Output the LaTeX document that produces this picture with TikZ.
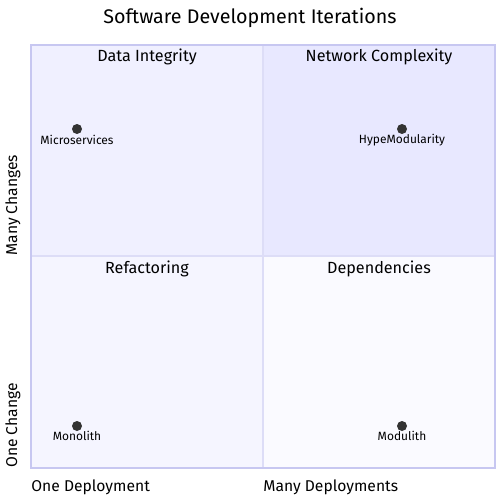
\documentclass[tikz,border=0pt]{standalone}
\usepackage{fontspec}
\setmainfont{Fira Sans}
\usepackage{xcolor}
\definecolor{qone}{HTML}{E8E8FF}
\definecolor{qtwo}{HTML}{F0F0FF}
\definecolor{qthree}{HTML}{F5F5FF}
\definecolor{qfour}{HTML}{FAFAFF}
\definecolor{qborder}{HTML}{C7C7F1}
\definecolor{qinner}{HTML}{DDDDF7}
\definecolor{pointgray}{HTML}{333333}
\tikzset{
  quadlabel/.style = {font=\fontsize{9.2}{11}\selectfont, anchor=center},
  axislabel/.style = {font=\fontsize{8.9}{10}\selectfont, inner sep=0pt},
  pointlabel/.style = {font=\fontsize{6.8}{8}\selectfont, inner sep=0pt},
  pointdot/.style = {circle, fill=pointgray, minimum size=0.2cm, inner sep=0pt}
}
\begin{document}
\begin{tikzpicture}[x=0.02cm, y=-0.02cm]
\useasboundingbox (0,0) rectangle (500,500);

% Title
\node (title) at (250,18) {\fontsize{11.2}{13}\selectfont Software Development Iterations};

% Quadrants
\fill[qtwo] (31,45) rectangle (263,256);
\fill[qone] (263,45) rectangle (495,256);
\fill[qthree] (31,256) rectangle (263,468);
\fill[qfour] (263,256) rectangle (495,468);
\draw[qinner, line width=0.8pt] (263,45) -- (263,468);
\draw[qinner, line width=0.8pt] (31,256) -- (495,256);
\draw[qborder, line width=1.2pt] (31,45) rectangle (495,468);

% Quadrant labels
\node[quadlabel] (dataint) at (147,57) {Data Integrity};
\node[quadlabel] (netcomp) at (379,57) {Network Complexity};
\node[quadlabel] (refact) at (147,269) {Refactoring};
\node[quadlabel] (depend) at (379,269) {Dependencies};

% Axis labels
\node[axislabel, anchor=west] (onedep) at (31,487) {One Deployment};
\node[axislabel, anchor=west] (manydep) at (263,487) {Many Deployments};
\node[axislabel, anchor=west, rotate=90] (manychg) at (13,256) {Many Changes};
\node[axislabel, anchor=west, rotate=90] (onechg) at (13,468) {One Change};

% Points
\node[pointdot] (micro) at (77,129) {};
\node[pointlabel] (microlbl) at (77,140) {Microservices};
\node[pointdot] (hype) at (402,129) {};
\node[pointlabel] (hypelbl) at (402,140) {HypeModularity};
\node[pointdot] (mono) at (77,426) {};
\node[pointlabel] (monolbl) at (77,436) {Monolith};
\node[pointdot] (modu) at (402,426) {};
\node[pointlabel] (modulbl) at (402,436) {Modulith};

\end{tikzpicture}
\end{document}
